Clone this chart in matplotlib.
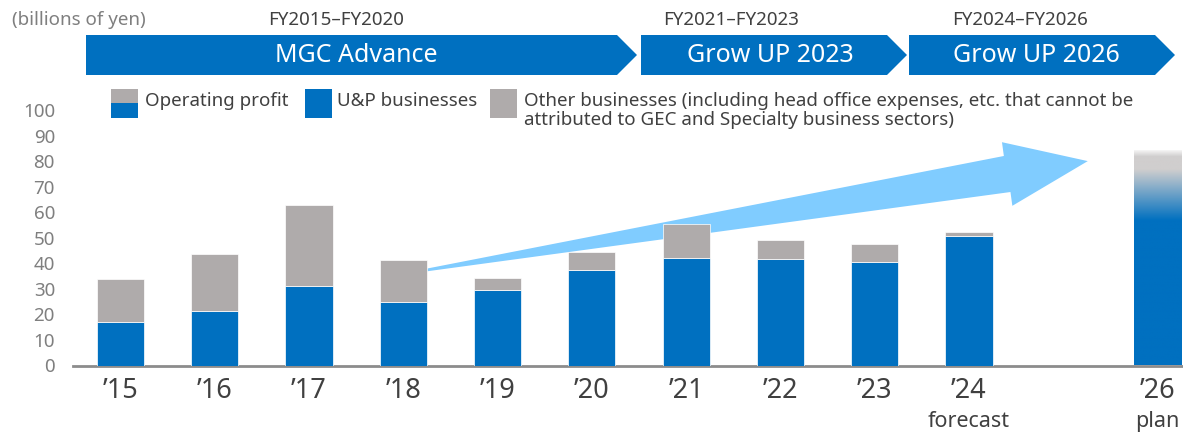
import matplotlib.pyplot as plt
import numpy as np
from matplotlib.patches import Polygon
from matplotlib.colors import to_rgba

plt.rcParams['font.family'] = ['Noto Sans', 'DejaVu Sans']

# operating profit, billions of yen
years = ['\u201915', '\u201916', '\u201917', '\u201918', '\u201919', '\u201920',
         '\u201921', '\u201922', '\u201923', '\u201924', '\u201926']
xpos = [0, 1, 2, 3, 4, 5, 6, 7, 8, 9, 11]
up_biz = [17.1, 21.5, 31.2, 25.0, 29.7, 37.4, 42.2, 41.8, 40.6, 50.8]
total = [34.0, 43.8, 62.8, 41.3, 34.2, 44.5, 55.4, 49.1, 47.4, 52.1]
other = [t - u for t, u in zip(total, up_biz)]
plan_total = 84.3
sub_labels = {9: 'forecast', 11: 'plan'}

plans = ['MGC Advance', 'Grow UP 2023', 'Grow UP 2026']
periods = ['FY2015\u2013FY2020', 'FY2021\u2013FY2023', 'FY2024\u2013FY2026']

BLUE = '#0070C0'
GRAY = '#AFABAB'
LIGHT = '#80CCFF'
DARK = '#404040'
MID = '#7F7F7F'

W, H = 1183, 432
fig = plt.figure(figsize=(W / 100, H / 100), dpi=100)

# header strip drawn in pixel coordinates
top = fig.add_axes([0, 0, 1, 1])
top.set_xlim(0, W)
top.set_ylim(H, 0)
top.axis('off')

ax = fig.add_axes([73 / W, (H - 365.5) / H, (W - 73) / W, 255.5 / H])
ax.set_facecolor('none')

bw = 0.5
ax.bar(xpos[:10], up_biz, bw, color=BLUE, edgecolor='white', linewidth=0.5, zorder=3)
ax.bar(xpos[:10], other, bw, bottom=up_biz, color=GRAY, edgecolor='white',
       linewidth=0.5, zorder=3)

# '26 plan bar: blue fading into gray and then white at the top
stops = [(0, BLUE), (56.5, BLUE), (76.5, '#D0CECE'), (81.5, '#D0CECE'), (plan_total, '#FAFAFA')]
vals = np.linspace(0, plan_total, 300)
sv = [s[0] for s in stops]
cols = np.array([to_rgba(s[1]) for s in stops])
grad = np.stack([np.interp(vals, sv, cols[:, k]) for k in range(4)], axis=1)
grad = grad[::-1][:, None, :]
plan_bar = ax.bar(xpos[10], plan_total, bw, color='none', zorder=3)[0]
im = ax.imshow(grad, extent=[xpos[10] - bw / 2, xpos[10] + bw / 2, 0, plan_total],
               aspect='auto', zorder=3)
im.set_clip_path(plan_bar)

# growth arrow behind the bars
arrow = [(2.76, 34.4), (9.37, 82.0), (9.35, 87.4), (10.26, 80.0),
         (9.46, 62.5), (9.44, 67.9)]
ax.add_patch(Polygon(arrow, closed=True, facecolor=LIGHT, edgecolor='none', zorder=2))

ax.set_xlim(-0.503, 11.27)
ax.set_ylim(0, 100)
for s in ['top', 'right', 'left']:
    ax.spines[s].set_visible(False)
ax.spines['bottom'].set_color('#8C8C8C')
ax.spines['bottom'].set_linewidth(2)
ax.set_yticks(range(0, 101, 10))
ax.set_xticks(xpos)
ax.set_xticklabels(years)
ax.tick_params(axis='y', length=0, pad=13, labelsize=13.5, labelcolor=MID)
ax.tick_params(axis='x', length=0, pad=8, labelsize=19.5, labelcolor=DARK)

for i, lab in sub_labels.items():
    ax.text(i, -0.22, lab, transform=ax.get_xaxis_transform(), ha='center', va='center',
            fontsize=15.5, color=DARK, clip_on=False)

spans = [(86, 637), (641, 907), (909, 1175)]
name_x = [356, 770, 1036]
period_x = [336, 731, 1020]
for (x0, x1), name, per, nx, px in zip(spans, plans, periods, name_x, period_x):
    poly = [(x0, 35), (x1 - 20, 35), (x1, 55), (x1 - 20, 75), (x0, 75)]
    top.add_patch(Polygon(poly, closed=True, facecolor=BLUE, edgecolor='none'))
    top.text(nx, 56, name, ha='center', va='center', fontsize=18, color='white')
    top.text(px, 20, per, ha='center', va='center', fontsize=13.5, color=DARK)

top.text(12, 20, '(billions of yen)', ha='left', va='center', fontsize=13.5, color=MID)

# legend
top.add_patch(plt.Rectangle((111, 89), 27, 14, facecolor=GRAY, edgecolor='none'))
top.add_patch(plt.Rectangle((111, 103), 27, 15, facecolor=BLUE, edgecolor='none'))
top.text(145, 101, 'Operating profit', ha='left', va='center', fontsize=13.5, color=DARK)
top.add_patch(plt.Rectangle((305, 89), 27, 29, facecolor=BLUE, edgecolor='none'))
top.text(337, 101, 'U&P businesses', ha='left', va='center', fontsize=13.5, color=DARK)
top.add_patch(plt.Rectangle((490, 89), 27, 29, facecolor=GRAY, edgecolor='none'))
top.text(524, 101, 'Other businesses (including head office expenses, etc. that cannot be',
         ha='left', va='center', fontsize=13.5, color=DARK)
top.text(524, 120, 'attributed to GEC and Specialty business sectors)',
         ha='left', va='center', fontsize=13.5, color=DARK)

fig.savefig('out.png', dpi=100)
